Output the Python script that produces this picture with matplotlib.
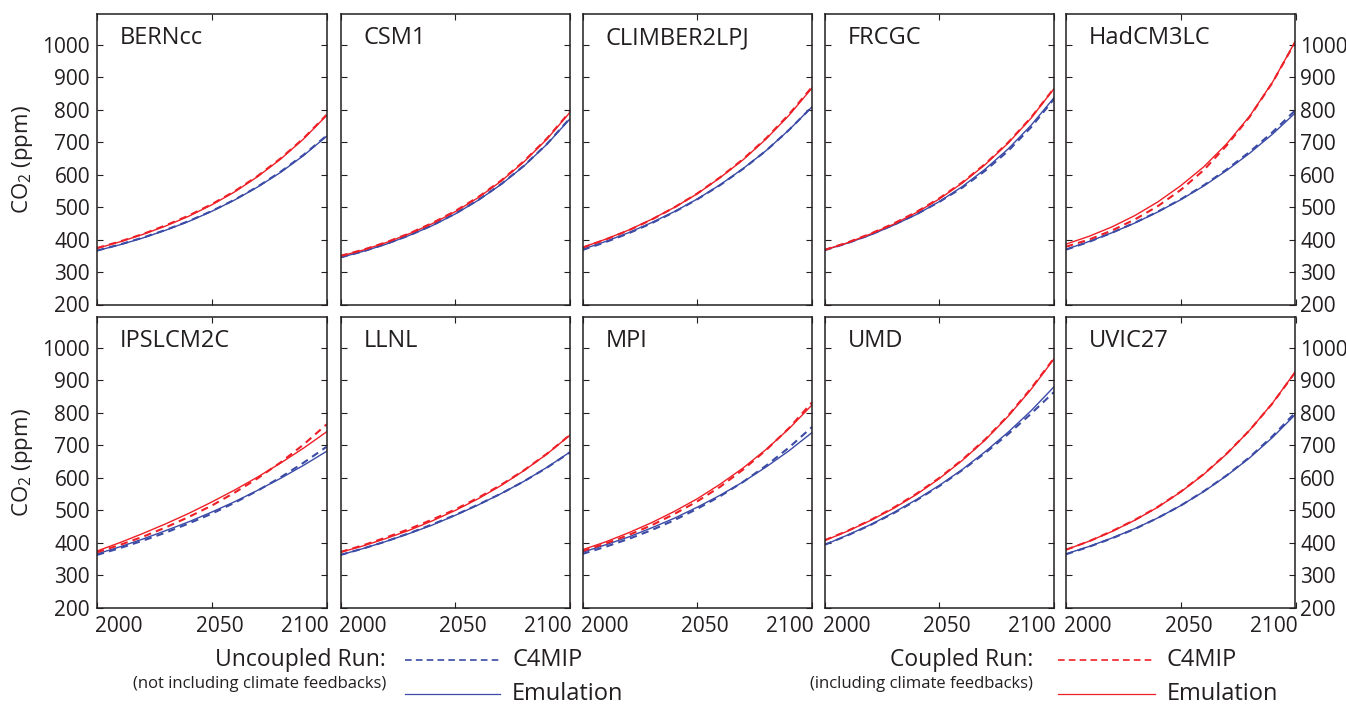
import matplotlib
matplotlib.use("Agg")
import matplotlib.pyplot as plt
from matplotlib.lines import Line2D
from matplotlib.transforms import ScaledTranslation

plt.rcParams['font.family'] = ['Open Sans', 'DejaVu Sans']
plt.rcParams['mathtext.fontset'] = 'custom'
plt.rcParams['mathtext.rm'] = 'Open Sans'
plt.rcParams['mathtext.default'] = 'regular'

# ---------------- data ----------------
years = [2000, 2010, 2020, 2030, 2040, 2050, 2060, 2070, 2080, 2090, 2100]
models = ['BERNcc', 'CSM1', 'CLIMBER2LPJ', 'FRCGC', 'HadCM3LC',
          'IPSLCM2C', 'LLNL', 'MPI', 'UMD', 'UVIC27']

# Uncoupled run (blue), C4MIP (dashed)
uncoupled_c4mip = [
    [366, 385, 406, 430, 457, 488, 523, 563, 609, 661, 720],   # BERNcc
    [345, 364, 387, 413, 444, 480, 522, 571, 628, 695, 774],   # CSM1
    [368, 392, 419, 450, 485, 524, 568, 618, 674, 738, 809],   # CLIMBER2LPJ
    [367, 389, 415, 445, 478, 516, 560, 612, 673, 746, 833],   # FRCGC
    [369, 393, 421, 452, 486, 524, 567, 616, 670, 731, 799],   # HadCM3LC
    [362, 383, 406, 431, 459, 489, 523, 560, 601, 646, 695],   # IPSLCM2C
    [362, 382, 404, 429, 456, 485, 517, 551, 589, 631, 678],   # LLNL
    [365, 387, 411, 438, 469, 504, 543, 587, 637, 693, 756],   # MPI
    [393, 422, 454, 490, 530, 574, 623, 676, 734, 797, 864],   # UMD
    [364, 387, 413, 442, 476, 514, 558, 607, 663, 728, 801],   # UVIC27
]
# Uncoupled run (blue), Emulation (solid)
uncoupled_emulation = [
    [366, 384, 405, 429, 456, 487, 522, 562, 607, 659, 718],
    [345, 364, 386, 413, 443, 479, 521, 570, 627, 694, 772],
    [370, 394, 421, 452, 486, 525, 569, 619, 674, 738, 809],
    [368, 389, 414, 444, 477, 517, 563, 617, 679, 752, 837],
    [370, 394, 421, 451, 485, 523, 565, 613, 666, 725, 791],
    [365, 387, 411, 437, 464, 494, 526, 561, 598, 638, 681],
    [362, 382, 404, 428, 454, 484, 516, 551, 589, 632, 679],
    [370, 393, 417, 445, 475, 509, 546, 587, 633, 683, 739],
    [393, 423, 455, 492, 532, 576, 625, 680, 740, 806, 880],
    [365, 388, 414, 443, 476, 514, 557, 606, 661, 724, 795],
]
# Coupled run (red), C4MIP (dashed)
coupled_c4mip = [
    [374, 394, 417, 444, 474, 509, 549, 596, 650, 712, 784],
    [350, 369, 392, 419, 451, 488, 531, 582, 642, 712, 794],
    [375, 400, 428, 461, 499, 542, 592, 648, 712, 786, 870],
    [368, 391, 418, 449, 485, 527, 576, 633, 699, 776, 866],
    [378, 400, 428, 462, 503, 553, 614, 690, 778, 884, 1010],
    [370, 393, 418, 447, 479, 514, 554, 598, 647, 702, 764],
    [371, 392, 416, 442, 471, 502, 538, 578, 623, 674, 732],
    [374, 397, 423, 453, 488, 527, 572, 625, 685, 753, 832],
    [407, 436, 469, 507, 550, 599, 655, 718, 791, 875, 968],
    [378, 404, 435, 470, 510, 557, 611, 674, 746, 829, 926],
]
# Coupled run (red), Emulation (solid)
coupled_emulation = [
    [373, 393, 416, 442, 472, 507, 547, 594, 648, 710, 782],
    [349, 368, 391, 418, 449, 486, 529, 580, 640, 710, 792],
    [376, 401, 429, 462, 499, 541, 591, 646, 710, 783, 867],
    [368, 390, 417, 447, 483, 525, 574, 631, 697, 774, 865],
    [386, 410, 439, 474, 516, 566, 624, 695, 780, 885, 1012],
    [374, 400, 428, 458, 490, 525, 562, 602, 645, 691, 741],
    [370, 390, 413, 438, 467, 499, 535, 576, 622, 673, 731],
    [378, 402, 430, 461, 496, 535, 580, 630, 687, 751, 824],
    [406, 435, 468, 505, 548, 597, 653, 716, 789, 872, 966],
    [378, 404, 434, 469, 509, 556, 610, 673, 746, 830, 927],
]

x_ticks = [2000, 2050, 2100]
y_ticks = [200, 300, 400, 500, 600, 700, 800, 900, 1000]

# ---------------- style ----------------
W, H = 1346, 705
TXT = '#231f20'
BLUE = '#3b4ba6'
RED = '#ee2027'

fig = plt.figure(figsize=(W / 100, H / 100), dpi=100)

col_left = [97, 340.5, 582.5, 824.5, 1066]
ax_w = 229.5
row_top = [14, 317]
ax_h = 290.5

x_off = {0: 22, 1: 8, 2: -22}   # px offsets of x tick labels

for i, name in enumerate(models):
    r, c = divmod(i, 5)
    l, t = col_left[c], row_top[r]
    ax = fig.add_axes([l / W, 1 - (t + ax_h) / H, ax_w / W, ax_h / H])

    ax.plot(years, uncoupled_c4mip[i], color=BLUE, lw=1.5, dashes=(3.5, 2.5))
    ax.plot(years, uncoupled_emulation[i], color=BLUE, lw=1.0)
    ax.plot(years, coupled_c4mip[i], color=RED, lw=1.5, dashes=(3.5, 2.5))
    ax.plot(years, coupled_emulation[i], color=RED, lw=1.0)

    ax.set_xlim(2000, 2100)
    ax.set_ylim(200, 1095)
    ax.set_xticks(x_ticks)
    ax.set_yticks(y_ticks)
    for sp in ax.spines.values():
        sp.set_linewidth(1.1)
        sp.set_color(TXT)
    ax.tick_params(direction='in', length=4, width=0.8, color=TXT,
                   labelcolor=TXT, labelsize=15,
                   top=True, right=True, bottom=True, left=True,
                   labelbottom=(r == 1), labelleft=(c == 0),
                   labelright=(c == 4))
    ax.tick_params(axis='x', pad=6)
    ax.tick_params(axis='y', pad=5 if c == 0 else 3.5)

    if r == 1:
        for k, lab in enumerate(ax.get_xticklabels()):
            lab.set_transform(lab.get_transform() +
                              ScaledTranslation(x_off[k] / 100, 0, fig.dpi_scale_trans))

    ax.text(23 / ax_w, 1 - 24 / ax_h, name, transform=ax.transAxes,
            fontsize=17, color=TXT, ha='left', va='center')

    if c == 0:
        fig.text(23 / W, 1 - (t + ax_h / 2) / H, 'CO$_2$ (ppm)', rotation=90,
                 ha='center', va='center', fontsize=16, color=TXT)

# ---------------- legend ----------------
def fy(y):
    return 1 - y / H

def legend_block(text_right, line_l, line_r, label_l, title, sub, color):
    fig.text(text_right / W, fy(660), title, ha='right', va='center',
             fontsize=16.5, color=TXT)
    fig.text(text_right / W, fy(684), sub, ha='right', va='center',
             fontsize=12, color=TXT)
    fig.add_artist(Line2D([line_l / W, line_r / W], [fy(660), fy(660)],
                          transform=fig.transFigure, color=color, lw=1.2,
                          dashes=(4, 2.5)))
    fig.add_artist(Line2D([line_l / W, line_r / W], [fy(694), fy(694)],
                          transform=fig.transFigure, color=color, lw=0.9))
    fig.text(label_l / W, fy(660), 'C4MIP', ha='left', va='center',
             fontsize=17, color=TXT)
    fig.text(label_l / W, fy(694), 'Emulation', ha='left', va='center',
             fontsize=17, color=TXT)

legend_block(386, 405, 500, 512, 'Uncoupled Run:',
             '(not including climate feedbacks)', BLUE)
legend_block(1033, 1058, 1155, 1167, 'Coupled Run:',
             '(including climate feedbacks)', RED)

fig.savefig('out.png', dpi=100)
